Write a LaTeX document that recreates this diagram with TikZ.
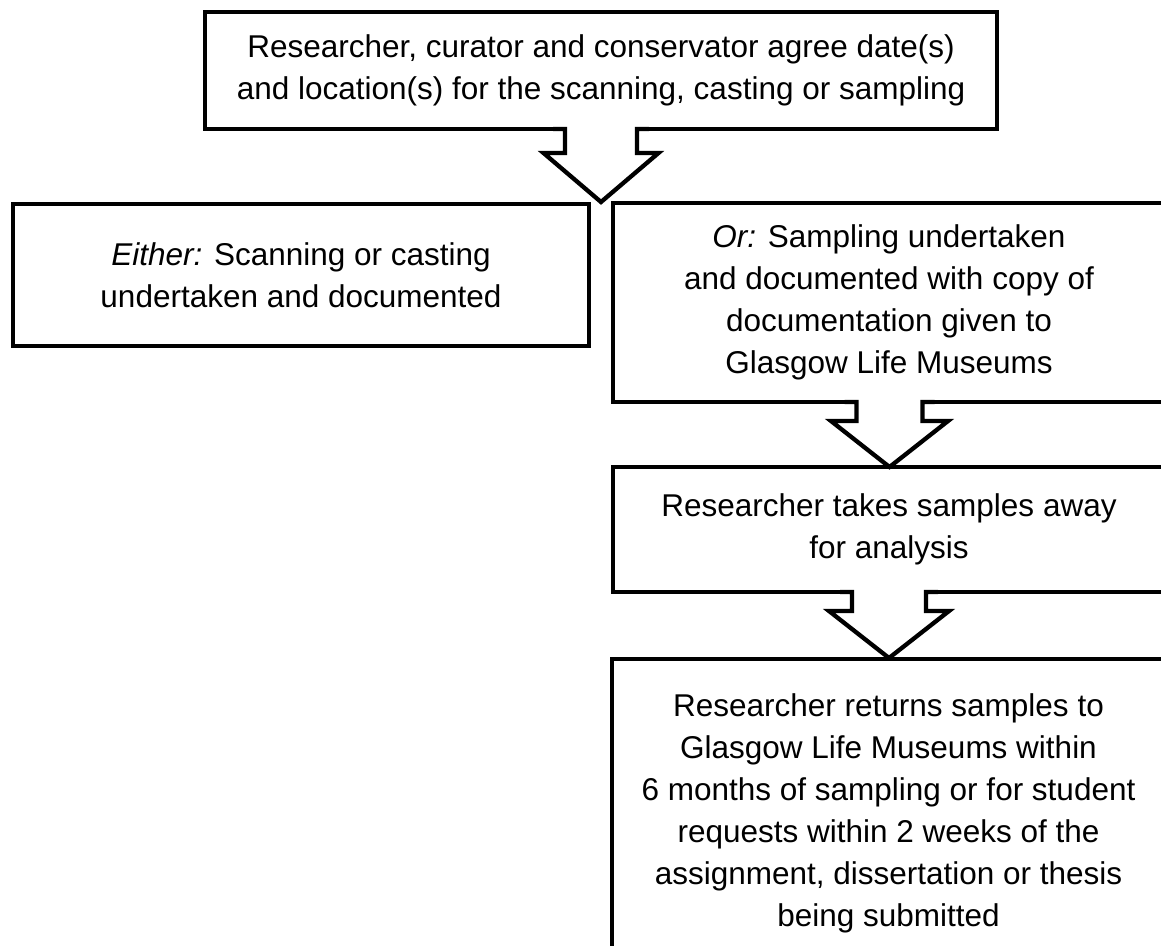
\documentclass[tikz,border=0pt]{standalone}
\usepackage{fontspec}
\setmainfont{Liberation Sans}
\newcommand\blockarrow[6]{% #1 tip x, #2 shaft top y, #3 tip y, #4 shaft half width, #5 wing half width, #6 head height
  \fill[white] (#1-#4,#2-3) rectangle (#1+#4,#3-#6);
  \draw[arrowline] (#1-#4-12,#2) -- (#1-#4,#2) -- (#1-#4,#3-#6) -- (#1-#5,#3-#6) -- (#1,#3)
     -- (#1+#5,#3-#6) -- (#1+#4,#3-#6) -- (#1+#4,#2) -- (#1+#4+12,#2);
}
\begin{document}
\begin{tikzpicture}[x=1pt,y=-1pt,
  box/.style={draw, line width=4.3pt, rectangle, inner sep=0pt, outer sep=0pt,
    align=center, font=\fontsize{31.5}{42}\selectfont},
  arrowline/.style={line width=4.3pt, line join=miter}]
\useasboundingbox (0,0) rectangle (1161,945);
\clip (0,0) rectangle (1161,945);
\node[box, minimum width=792pt, minimum height=117pt] (top) at (601,70.5)
  {Researcher, curator and conservator agree date(s)\\and location(s) for the scanning, casting or sampling};
\node[box, minimum width=576pt, minimum height=142pt] (either) at (301,275)
  {{\itshape Either:} Scanning or casting\\undertaken and documented};
\node[box, minimum width=552pt, minimum height=199pt] (or) at (889,302.5)
  {{\itshape Or:} Sampling undertaken\\and documented with copy of\\documentation given to\\Glasgow Life Museums};
\node[box, minimum width=552pt, minimum height=125pt] (away) at (889,529.5)
  {Researcher takes samples away\\for analysis};
\node[box, minimum width=553pt, minimum height=308pt] (return) at (888.5,813)
  {Researcher returns samples to\\Glasgow Life Museums within\\6 months of sampling or for student\\requests within 2 weeks of the\\assignment, dissertation or thesis\\being submitted};
\blockarrow{601}{129}{202}{36}{57.5}{49}
\blockarrow{889.5}{402}{467}{33}{58.5}{46}
\blockarrow{889}{592}{658}{37}{60}{47}
\end{tikzpicture}
\end{document}
